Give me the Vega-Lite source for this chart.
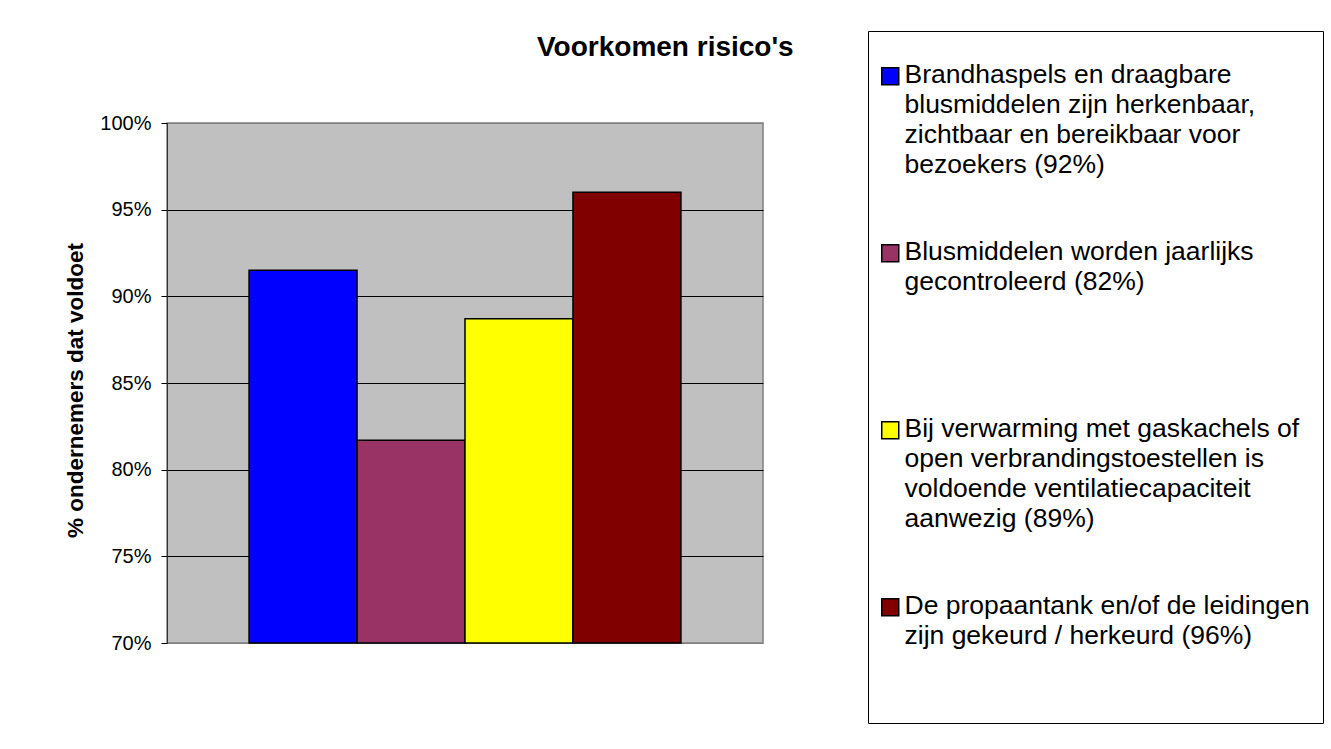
{
  "$schema": "https://vega.github.io/schema/vega-lite/v6.json",
  "width": 596,
  "height": 520,
  "autosize": "none",
  "padding": {"left": 167, "top": 123, "right": 568, "bottom": 106},
  "background": "white",
  "title": {
    "text": "Voorkomen risico's",
    "font": "Liberation Sans",
    "fontSize": 28,
    "fontWeight": "bold",
    "color": "black",
    "anchor": "start",
    "frame": "group",
    "dx": 370,
    "dy": 53,
    "baseline": "alphabetic",
    "offset": 0
  },
  "data": {
    "values": [
      {"item": "Brandhaspels en draagbare|blusmiddelen zijn herkenbaar,|zichtbaar en bereikbaar voor|bezoekers (92%)", "share": 0.915},
      {"item": "Blusmiddelen worden jaarlijks|gecontroleerd (82%)| | ", "share": 0.817},
      {"item": "Bij verwarming met gaskachels of|open verbrandingstoestellen is|voldoende ventilatiecapaciteit|aanwezig (89%)", "share": 0.887},
      {"item": "De propaantank en/of de leidingen|zijn gekeurd / herkeurd (96%)| | ", "share": 0.96}
    ]
  },
  "mark": {"type": "bar", "stroke": "black", "strokeWidth": 1.5},
  "encoding": {
    "x": {
      "field": "item",
      "type": "nominal",
      "sort": null,
      "axis": null,
      "scale": {"paddingInner": 0, "paddingOuter": 0.76}
    },
    "y": {
      "field": "share",
      "type": "quantitative",
      "scale": {"domain": [0.7, 1], "zero": false, "nice": false},
      "axis": {
        "title": "% ondernemers dat voldoet",
        "titleFont": "Liberation Sans",
        "titleFontSize": 22.5,
        "titleFontWeight": "bold",
        "titleColor": "black",
        "titlePadding": 12,
        "titleY": 267,
        "values": [0.7, 0.75, 0.8, 0.85, 0.9, 0.95, 1],
        "format": ".0%",
        "labelFont": "Liberation Sans",
        "labelFontSize": 20,
        "labelColor": "black",
        "labelPadding": 10,
        "labelOffset": -7,
        "tickSize": 6,
        "tickColor": "black",
        "domainColor": "#333333",
        "grid": true,
        "gridColor": {"condition": {"test": "datum.value >= 0.999 || datum.value <= 0.701", "value": "#808080"}, "value": "black"},
        "gridOpacity": 1
      }
    },
    "y2": {"datum": 0.7},
    "color": {
      "field": "item",
      "type": "nominal",
      "sort": null,
      "scale": {"range": ["#0000FF", "#993366", "#FFFF00", "#800000"]},
      "legend": {
        "orient": "none",
        "legendX": 701,
        "legendY": -92,
        "title": " ",
        "titleFontSize": 12,
        "titlePadding": 7,
        "strokeColor": "black",
        "fillColor": "white",
        "padding": 13,
        "symbolType": "square",
        "symbolSize": 289,
        "symbolOffset": -4,
        "symbolStrokeColor": "black",
        "symbolStrokeWidth": 1.5,
        "symbolOpacity": 1,
        "labelFont": "Liberation Sans",
        "labelFontSize": 26.5,
        "labelColor": "black",
        "labelLimit": 600,
        "labelOffset": 1,
        "labelBaseline": "alphabetic",
        "labelExpr": "split(datum.label, '|')",
        "rowPadding": 60
      }
    }
  },
  "config": {
    "view": {"fill": "#C0C0C0", "stroke": "#808080", "strokeWidth": 1.5},
    "style": {"guide-label": {"lineHeight": 30, "dy": 7}}
  }
}
